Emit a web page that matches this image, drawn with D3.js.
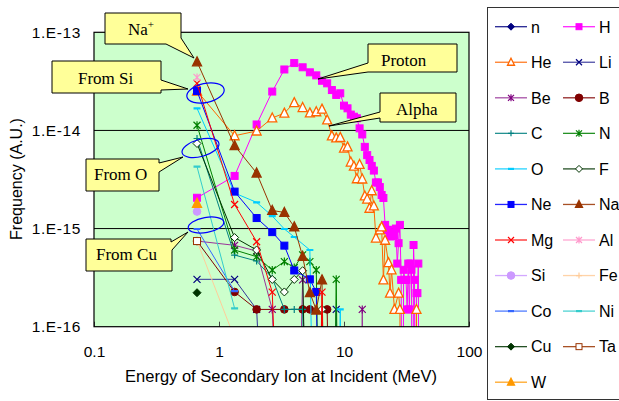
<!DOCTYPE html>
<html><head><meta charset="utf-8">
<script src="https://cdn.jsdelivr.net/npm/d3@7"></script>
<style>body{margin:0;background:#fff}svg{display:block}</style>
</head><body><svg id="c" width="619" height="401"></svg>
<script>
// ---------- DATA ----------
const energy = [0.667,1.333,2.000,2.667,3.333,4.000,4.667,5.333,6.000,6.667,
  7.333,8.000,8.667,9.333,10.00,10.67,11.33,12.00,12.67,13.33,
  14.00,14.67,15.33,16.00,16.67,17.33,18.00,18.67,19.33,20.00,
  20.67,21.33,22.00,22.67,23.33,24.00,24.67,25.33,26.00,26.67,
  27.33,28.00,28.67,29.33,30.00,30.67,31.33,32.00,32.67,33.33,
  34.00,34.67,35.33,36.00,36.67,37.33,38.00,38.67,39.33,40.00];
// value per energy bin; null = no point, 0 = zero (falls below axis)
const n  = [];
const H  = [2.06e-15,3.44e-15,1.15e-14,2.49e-14,4.18e-14,4.86e-14,4.40e-14,3.91e-14,3.64e-14,3.21e-14,
  3.02e-14,2.58e-14,2.30e-14,2.39e-14,1.79e-14,1.68e-14,1.45e-14,1.38e-14,1.33e-14,1.05e-14,
  9.1e-15,6.8e-15,5.6e-15,5.0e-15,4.35e-15,3.9e-15,2.95e-15,2.95e-15,2.65e-15,2.2e-15,
  2.05e-15,1.09e-15,9.7e-16,9.7e-16,8.3e-16,8.4e-16,9.0e-16,8.6e-16,1.0e-15,4.4e-16,
  7.1e-16,1.09e-15,3.0e-16,0,3.8e-16,3.0e-16,3.0e-16,1.5e-16,4.4e-16,1.5e-16,
  4.4e-16,3.8e-16,0,6.8e-16,3.0e-16,0,2.2e-16,2.2e-16,4.4e-16,0];
const He = [2.52e-14,8.83e-15,9.87e-15,1.34e-14,1.50e-14,1.92e-14,1.71e-14,1.51e-14,1.55e-14,1.65e-14,
  1.28e-14,8.8e-15,8.4e-15,8.5e-15,6.6e-15,6.8e-15,4.76e-15,4.33e-15,3.22e-15,4.5e-15,
  3.2e-15,2.15e-15,2.0e-15,1.61e-15,2.43e-15,1.7e-15,8.0e-16,null,9.7e-16,1.04e-15,
  3.0e-16,7.6e-16,null,4.5e-16,2.2e-16,3.8e-16,null,1.5e-16,null,null,
  2.2e-16,1.5e-16,0,null,null,null,null,null,null,null,
  null,null,null,null,null,0,1.5e-16,0];
const Li = [3.04e-16,3.04e-16,1.5e-16,0,null,null,null,null,null,null,null,0,1.5e-16,0];
const Be = [7.46e-16,6.75e-16,5.9e-16,1.5e-16,0,0,3.0e-16,0,null,null,null,null,null,null,null,null,null,null,null,0,1.5e-16,0];
const B  = [7.46e-16,2.26e-16,1.5e-16,null,1.5e-16,null,1.5e-16,1.5e-16,null,null,1.5e-16,0];
const C  = [8.28e-15,5.37e-16,4.67e-16,3.13e-16,1.5e-16,1.5e-16,1.5e-16,0];
const N  = [1.13e-14,6.05e-16,5.17e-16,3.78e-16,4.61e-16,4.0e-16,5.4e-16,4.6e-16,3.78e-16,0,null,0,3.04e-16,0];
const O  = [1.68e-14,2.3e-15,1.85e-15,1.34e-15,9.9e-16,8.2e-16,null,6.05e-16,0,null,null,null,0,1.5e-16,0];
const F  = [7.36e-15,8.1e-16,6.05e-16,3.03e-16,2.26e-16,3.03e-16,3.72e-16,0,0,1.5e-16,0];
const Ne = [2.52e-14,2.38e-15,1.28e-15,9.2e-16,6.7e-16,3.74e-16,null,3.04e-16,2.26e-16,0];
const Na = [5.0e-14,7.0e-15,3.68e-15,1.53e-15,1.46e-15,1.04e-15,5.2e-16,2.22e-16,1.48e-16,3.0e-16,0];
const Mg = [3.02e-14,1.76e-15,7.34e-16,2.25e-16,0,null,null,null,0,2.25e-16,0];
const Al = [3.47e-14];
const Si = [1.49e-15];
const Fe = [7.46e-16,7.6e-17];
const Co = [9.9e-16,2.3e-16];
const Ni = [4.27e-15,1.54e-16];
const Cu = [2.22e-16];
const Ta = [7.46e-16];
const Wt = [1.81e-15];
const seriesNames = ["n","H","He","Li","Be","B","C","N","O","F","Ne","Na","Mg","Al","Si","Fe","Co","Ni","Cu","Ta","W"];
const seriesValues = [n,H,He,Li,Be,B,C,N,O,F,Ne,Na,Mg,Al,Si,Fe,Co,Ni,Cu,Ta,Wt];
const xTicks = [0.1,1,10,100];
const xTickLabels = ["0.1","1","10","100"];
const yTicks = [1e-13,1e-14,1e-15,1e-16];
const yTickLabels = ["1.E-13","1.E-14","1.E-15","1.E-16"];
const gridValues = [1e-14,1e-15];

// ---------- STYLES ----------
const style = {
  n:{c:"#000080",m:"diamond",f:"#000080"}, H:{c:"#FF00FF",m:"square",f:"#FF00FF"},
  He:{c:"#FF6600",m:"triangle",f:"#FFFFFF"}, Li:{c:"#333399",mc:"#000080",m:"x"},
  Be:{c:"#993399",mc:"#800080",m:"star"}, B:{c:"#800000",m:"circle",f:"#800000"},
  C:{c:"#008080",m:"plus"}, N:{c:"#008000",m:"star"},
  O:{c:"#00CCFF",m:"dash"}, F:{c:"#003300",m:"diamond",f:"#FFFFFF"},
  Ne:{c:"#0000FF",m:"square",f:"#0000FF"}, Na:{c:"#993300",m:"triangle",f:"#993300"},
  Mg:{c:"#FF0000",m:"x"}, Al:{c:"#FF99CC",m:"star"},
  Si:{c:"#CC99FF",m:"circle",f:"#CC99FF"}, Fe:{c:"#FFCC99",m:"plus"},
  Co:{c:"#3366FF",m:"dash"}, Ni:{c:"#33CCCC",m:"dash"},
  Cu:{c:"#003300",m:"diamond",f:"#003300"}, Ta:{c:"#993300",m:"square",f:"#FFFFFF"},
  W:{c:"#FF9900",m:"triangle",f:"#FF9900"}
};

const svg = d3.select("#c");
const L=94,R=469,T=32.3,Bt=326.7;
const x = d3.scaleLog().domain([0.1,100]).range([L,R]);
const y = d3.scaleLog().domain([1e-16,1e-13]).range([Bt,T]);
const ZERO = 1e-19;
const sans = "Liberation Sans, Arial, sans-serif";

svg.append("rect").attr("x",0).attr("y",0).attr("width",619).attr("height",401).attr("fill","#fff");
svg.append("defs").append("clipPath").attr("id","clip").append("rect")
  .attr("x",L).attr("y",T).attr("width",R-L).attr("height",Bt-T);
svg.append("rect").attr("x",L).attr("y",T).attr("width",R-L).attr("height",Bt-T).attr("fill","#CCFFCC");

// gridlines
svg.selectAll(".grid").data(gridValues).enter().append("line")
  .attr("x1",L).attr("x2",R).attr("y1",d=>y(d)).attr("y2",d=>y(d))
  .attr("stroke","#000").attr("stroke-width",1);

// axes
const xAxis = d3.axisBottom(x).tickValues(xTicks).tickFormat((d,i)=>xTickLabels[i])
  .tickSizeInner(-5).tickSizeOuter(0).tickPadding(19.5);
const gx = svg.append("g").attr("transform",`translate(0,${Bt})`).call(xAxis);
gx.select(".domain").remove();
gx.selectAll("line").attr("stroke","#444");
gx.selectAll("text").attr("font-family",sans).attr("font-size",15.5).attr("fill","#000");
const yAxis = d3.axisLeft(y).tickValues(yTicks).tickFormat((d,i)=>yTickLabels[i])
  .tickSize(0).tickPadding(13);
const gy = svg.append("g").attr("transform",`translate(${L},0)`).call(yAxis);
gy.select(".domain").remove();
gy.selectAll("text").attr("font-family",sans).attr("font-size",15.5).attr("letter-spacing",0.6).attr("fill","#000");

// marker drawing
function marker(g, type, cx, cy, col, fill, s){
  const h = s/2;
  if(type==="square") g.append("rect").attr("x",cx-h).attr("y",cy-h).attr("width",s).attr("height",s).attr("fill",fill).attr("stroke",col).attr("stroke-width",1);
  else if(type==="circle") g.append("circle").attr("cx",cx).attr("cy",cy).attr("r",h+0.3).attr("fill",fill).attr("stroke",col).attr("stroke-width",1);
  else if(type==="diamond") g.append("path").attr("d",`M${cx},${cy-h-0.5}L${cx+h+0.5},${cy}L${cx},${cy+h+0.5}L${cx-h-0.5},${cy}Z`).attr("fill",fill).attr("stroke",col).attr("stroke-width",1);
  else if(type==="triangle") g.append("path").attr("d",`M${cx},${cy-h-1}L${cx+h+0.5},${cy+h}L${cx-h-0.5},${cy+h}Z`).attr("fill",fill).attr("stroke",col).attr("stroke-width",1.3);
  else if(type==="x"){ g.append("path").attr("d",`M${cx-h},${cy-h}L${cx+h},${cy+h}M${cx-h},${cy+h}L${cx+h},${cy-h}`).attr("stroke",col).attr("stroke-width",1.2).attr("fill","none"); }
  else if(type==="star"){ g.append("path").attr("d",`M${cx-h},${cy-h}L${cx+h},${cy+h}M${cx-h},${cy+h}L${cx+h},${cy-h}M${cx},${cy-h-0.5}L${cx},${cy+h+0.5}`).attr("stroke",col).attr("stroke-width",1.2).attr("fill","none"); }
  else if(type==="plus"){ g.append("path").attr("d",`M${cx-h},${cy}L${cx+h},${cy}M${cx},${cy-h}L${cx},${cy+h}`).attr("stroke",col).attr("stroke-width",1.2).attr("fill","none"); }
  else if(type==="dash"){ g.append("path").attr("d",`M${cx-h},${cy}L${cx+h},${cy}`).attr("stroke",col).attr("stroke-width",2.2).attr("fill","none"); }
}

const line = d3.line().x(d=>x(d.e)).y(d=>y(d.v));
const plotG = svg.append("g").attr("clip-path","url(#clip)");
seriesNames.forEach((name,si)=>{
  const st = style[name];
  const pts = seriesValues[si].map((v,i)=>({e:energy[i],v:v})).filter(d=>d.v!==null).map(d=>({e:d.e,v:d.v===0?ZERO:d.v}));
  const g = plotG.append("g");
  if(pts.length>1) g.append("path").datum(pts).attr("d",line).attr("fill","none").attr("stroke",st.c).attr("stroke-width",1);
  pts.filter(d=>d.v>ZERO).forEach(d=>{
    const s = (st.m==="square")?7:(st.m==="circle")?7:(st.m==="triangle")?8:7;
    marker(g, st.m, x(d.e), y(d.v), st.mc||st.c, st.f||"none", s);
  });
});

// plot border
svg.append("rect").attr("x",L).attr("y",T).attr("width",R-L).attr("height",Bt-T).attr("fill","none").attr("stroke","#000").attr("stroke-width",1.2);

// axis titles
svg.append("text").attr("x",281).attr("y",382).attr("text-anchor","middle")
  .attr("font-family",sans).attr("font-size",16.5).text("Energy of Secondary Ion at Incident (MeV)");
svg.append("text").attr("transform","translate(22,179) rotate(-90)").attr("text-anchor","middle")
  .attr("font-family",sans).attr("font-size",16).text("Frequency (A.U.)");

// ellipses
const ell = [[205.5,93,19,9.5,-12],[200.5,148,19,8.5,-15],[206,225,18,7.5,-10]];
ell.forEach(e=>svg.append("ellipse").attr("cx",0).attr("cy",0).attr("rx",e[2]).attr("ry",e[3])
  .attr("transform",`translate(${e[0]},${e[1]}) rotate(${e[4]})`).attr("fill","none").attr("stroke","#0000FF").attr("stroke-width",1.2));

// callouts
const cf = "Liberation Serif, Times New Roman, serif";
function callout(d, tx, ty, txt, sup){
  svg.append("path").attr("d",d).attr("fill","#FFFF99").attr("stroke","#000").attr("stroke-width",1);
  const t = svg.append("text").attr("x",tx).attr("y",ty).attr("font-family",cf).attr("font-size",17).attr("fill","#000").text(txt);
  if(sup) t.append("tspan").attr("dy",-7).attr("font-size",11).text(sup);
}
callout("M105,13H181V38L194,58L166,44H105Z",128,35,"Na","+");
callout("M52,61H161V80L188,89L161,90V93H52Z",78,84,"From Si");
callout("M86,159H159V163L183,157L159,172V191H86Z",94,180,"From O");
callout("M86,239H171V242L188,232L172,250V271H86Z",96,260,"From Cu");
callout("M368,44H457V72H368L318,79L368,63Z",381,66,"Proton");
callout("M380,93H456V122H380V118L329,126L380,112Z",396,115,"Alpha");

// legend
svg.append("rect").attr("x",487.5).attr("y",7.5).attr("width",140).attr("height",392).attr("fill","#fff").attr("stroke","#333").attr("stroke-width",1);
seriesNames.forEach((name,i)=>{
  const st = style[name];
  const col = i%2, row = Math.floor(i/2);
  const ly = 26.7 + row*35.55;
  const lx = col===0?495:563;
  const g = svg.append("g");
  g.append("line").attr("x1",lx).attr("x2",lx+32).attr("y1",ly).attr("y2",ly).attr("stroke",st.c).attr("stroke-width",1.3).attr("opacity",0.85);
  marker(g, st.m, lx+16, ly, st.mc||st.c, st.f||"none", st.m==="circle"?7:6);
  g.append("text").attr("x",lx+36).attr("y",ly+5.8).attr("font-family",sans).attr("font-size",16).attr("fill","#000").text(name);
});
</script></body></html>
